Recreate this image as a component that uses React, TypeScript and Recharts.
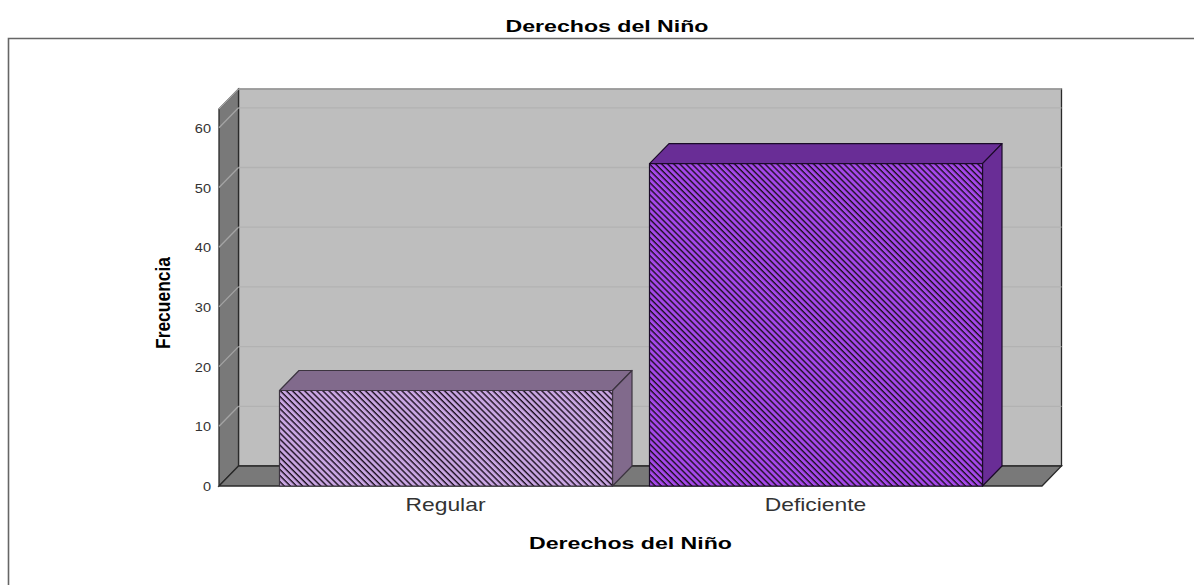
import { Bar, BarChart, CartesianGrid, Label, XAxis, YAxis, usePlotArea } from "recharts";

const categories = ["Regular", "Deficiente"];
const frecuencias = [16, 54];
const yTicks = [0, 10, 20, 30, 40, 50, 60];

const title = "Derechos del Niño";
const yTitle = "Frecuencia";

// colours per bar: front, top and side faces, outline
const barFront = ["#c9a6e2", "#a648ea"];
const barSide = ["#816a8c", "#692d96"];
const barEdge = ["#3c3440", "#1a0a28"];

const DEPTH_X = 19.5;
const DEPTH_Y = 20;
const font = '"Liberation Sans", Arial, sans-serif';

const data = categories.map((name, i) => ({ name, value: frecuencias[i] }));

// the original renders its labels horizontally stretched
function WideText({ x, y, size, sx, bold, fill, children }: any) {
  return (
    <text
      transform={`translate(${x},${y}) scale(${sx},1)`}
      textAnchor="middle"
      fontFamily={font}
      fontSize={size}
      fontWeight={bold ? "bold" : "normal"}
      fill={fill}
    >
      {children}
    </text>
  );
}

function XTick({ x, y, payload }: any) {
  return (
    <WideText x={x} y={y + 23} size={18} sx={1.27} fill="#333">
      {payload.value}
    </WideText>
  );
}

function YTick({ x, y, payload }: any) {
  return (
    <text
      transform={`translate(${x},${y + 5}) scale(1.12,1)`}
      textAnchor="end"
      fontFamily={font}
      fontSize={13}
      fill="#333"
    >
      {payload.value}
    </text>
  );
}

function XTitle({ viewBox }: any) {
  return (
    <WideText x={viewBox.x + viewBox.width / 2} y={549} size={17} sx={1.36} bold fill="#000">
      {title}
    </WideText>
  );
}

// drawn through the grid so that it stays behind the grid lines
function WallLine(props: any) {
  const plot = usePlotArea();
  if (!plot || Math.abs(props.y1 - (plot.y + plot.height)) > 1) return <g />;
  const { x, y, width, height } = plot;
  const r = x + width;
  const b = y + height;
  return (
    <g stroke="#2a2a2a" strokeWidth={1.3}>
      <rect x={x + DEPTH_X} y={y - DEPTH_Y} width={width} height={height} fill="#bebebe" />
      <polygon points={`${x},${y} ${x + DEPTH_X},${y - DEPTH_Y} ${x + DEPTH_X},${b - DEPTH_Y} ${x},${b}`} fill="#797979" />
      <polygon points={`${x},${b} ${r},${b} ${r + DEPTH_X},${b - DEPTH_Y} ${x + DEPTH_X},${b - DEPTH_Y}`} fill="#797979" />
    </g>
  );
}

function GridLine(props: any) {
  const { x1, x2, y1 } = props;
  const plot = usePlotArea();
  if (!plot || Math.abs(y1 - (plot.y + plot.height)) < 1) return <g />;
  return (
    <g fill="none">
      <line x1={x1} y1={y1} x2={x1 + DEPTH_X} y2={y1 - DEPTH_Y} stroke="#a4a4a4" strokeWidth={1.3} />
      <line x1={x1 + DEPTH_X} y1={y1 - DEPTH_Y} x2={x2 + DEPTH_X} y2={y1 - DEPTH_Y} stroke="#b2b2b2" strokeWidth={1.3} />
    </g>
  );
}

function Bar3D(props: any) {
  const { x, y, width, height, index } = props;
  const r = x + width;
  const b = y + height;
  return (
    <g stroke={barEdge[index]} strokeWidth={1.2} strokeLinejoin="round">
      <polygon points={`${x},${y} ${x + DEPTH_X},${y - DEPTH_Y} ${r + DEPTH_X},${y - DEPTH_Y} ${r},${y}`} fill={barSide[index]} />
      <polygon points={`${r},${y} ${r + DEPTH_X},${y - DEPTH_Y} ${r + DEPTH_X},${b - DEPTH_Y} ${r},${b}`} fill={barSide[index]} />
      <rect x={x} y={y} width={width} height={height} fill={`url(#hatch${index})`} />
    </g>
  );
}

export default function App() {
  return (
    <div style={{ position: "absolute", left: 0, top: 0, width: 1194, height: 585, overflow: "hidden", background: "#fff" }}>
      <BarChart
        width={1194}
        height={585}
        data={data}
        margin={{ top: 109, right: 152, bottom: 0, left: 159 }}
        barCategoryGap={0}
      >
        <defs>
          {barFront.map((c, i) => (
            <pattern key={i} id={`hatch${i}`} width={4.3} height={4.3} patternUnits="userSpaceOnUse" patternTransform="rotate(45)">
              <rect width={4.3} height={4.3} fill={c} />
              <rect width={4.3} height={1.4} fill="#1c1020" />
            </pattern>
          ))}
        </defs>
        <path d="M8.5 585 V38.5 H1194" fill="none" stroke="#666" strokeWidth={1.6} />
        <WideText x={607} y={32} size={17} sx={1.36} bold fill="#000">
          {title}
        </WideText>
        <text
          transform="translate(170,303) rotate(-90)"
          textAnchor="middle"
          fontFamily={font}
          fontWeight="bold"
          fontSize={21}
          textLength={92}
          lengthAdjust="spacingAndGlyphs"
        >
          {yTitle}
        </text>
        <CartesianGrid vertical={false} horizontal={<WallLine />} />
        <CartesianGrid vertical={false} horizontal={<GridLine />} />
        <XAxis
          dataKey="name"
          padding={{ left: 41.5, right: 41.5 }}
          height={99}
          axisLine={false}
          tickLine={false}
          tickSize={0}
          tick={<XTick />}
        >
          <Label content={<XTitle />} />
        </XAxis>
        <YAxis
          width={60}
          domain={[0, 63.15]}
          ticks={yTicks}
          interval={0}
          axisLine={false}
          tickLine={false}
          tickSize={0}
          tickMargin={8}
          tick={<YTick />}
        />
        <Bar dataKey="value" barSize={333} isAnimationActive={false} shape={<Bar3D />} />
      </BarChart>
    </div>
  );
}
